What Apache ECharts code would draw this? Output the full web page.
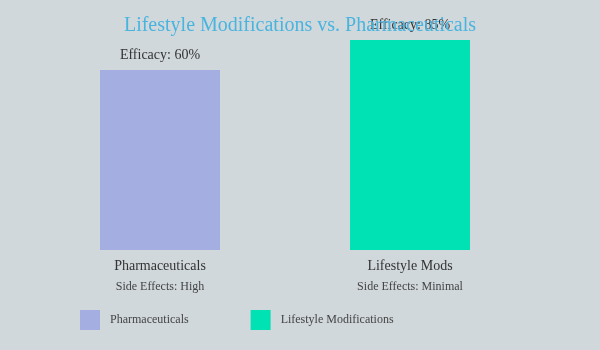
<!DOCTYPE html>
<html lang="en">
  <head>
    <meta charset="UTF-8" />
    <title>Lifestyle vs Pharmaceuticals</title>
    <script src="https://cdn.jsdelivr.net/npm/echarts@6/dist/echarts.min.js"></script>
    <style>
      html, body { margin: 0; padding: 0; background: #d0d8db; }
      #chart { width: 600px; height: 350px; }
    </style>
  </head>
  <body>
    <div id="chart"></div>
    <script>
      // data
      const categories = ["Pharmaceuticals", "Lifestyle Mods"];
      const sideEffects = ["Side Effects: High", "Side Effects: Minimal"];
      const seriesNames = ["Pharmaceuticals", "Lifestyle Modifications"];
      const efficacy = [60, 85];
      const colors = ["#a4aee0", "#00e2b4"];

      const font = "'Liberation Serif', serif";
      const myChart = echarts.init(document.getElementById("chart"));

      const series = seriesNames.map((name, i) => ({
        name: name,
        type: "bar",
        stack: "all",
        barWidth: 120,
        clip: true,
        itemStyle: { color: colors[i] },
        label: {
          show: true,
          position: "top",
          distance: 8,
          color: "#333",
          fontFamily: font,
          fontSize: 14,
          formatter: (p) => "Efficacy: " + p.value + "%",
        },
        data: categories.map((c, j) => (j === i ? efficacy[i] : "-")),
      }));

      const option = {
        backgroundColor: "#d0d8db",
        title: {
          text: "Lifestyle Modifications vs. Pharmaceuticals",
          left: "center",
          top: 11,
          textStyle: { color: "#4ab4de", fontFamily: font, fontSize: 20, fontWeight: "normal" },
        },
        grid: { left: 35, right: 65, top: 40, bottom: 100 },
        legend: {
          left: 80,
          top: 310,
          padding: 0,
          itemWidth: 20,
          itemHeight: 20,
          itemGap: 62,
          icon: "rect",
          textStyle: { color: "#444", fontFamily: font, fontSize: 12, padding: [0, 0, 0, 5] },
          data: seriesNames,
        },
        xAxis: {
          type: "category",
          data: categories,
          axisLine: { show: false },
          axisTick: { show: false },
          axisLabel: {
            margin: 5,
            formatter: (v, idx) => "{a|" + v + "}\n{b|" + sideEffects[idx] + "}",
            rich: {
              a: { color: "#333", fontFamily: font, fontSize: 14, lineHeight: 22 },
              b: { color: "#444", fontFamily: font, fontSize: 12, lineHeight: 20 },
            },
          },
        },
        yAxis: { type: "value", min: 0, max: 70, show: false },
        series: series,
      };
      myChart.setOption(option);
    </script>
  </body>
</html>
